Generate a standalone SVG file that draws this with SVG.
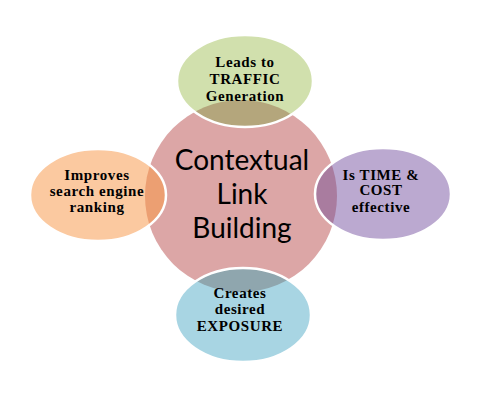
<svg xmlns="http://www.w3.org/2000/svg" width="500" height="400" viewBox="0 0 500 400">
<defs>
<style>
.sat{font-family:"Liberation Serif",serif;font-weight:bold;font-size:15px;letter-spacing:0.6px;text-anchor:middle;fill:#000}
.ctr{font-family:Lato,"Open Sans",sans-serif;font-size:28px;text-anchor:middle;fill:#000}
.edge{fill:none;stroke:#fff;stroke-width:2.5}
</style>
<clipPath id="cc"><circle cx="241" cy="196" r="96"/></clipPath>
</defs>
<rect width="500" height="400" fill="#fff"/>
<g id="center">
<circle cx="241" cy="196" r="96" fill="#dca6a6"/>
</g>
<g id="top">
<ellipse cx="245" cy="81" rx="68" ry="46" fill="#d1e0ad"/>
<ellipse cx="245" cy="81" rx="68" ry="46" fill="#b4a67c" clip-path="url(#cc)"/>
<ellipse class="edge" cx="245" cy="81" rx="68" ry="46"/>
<text class="sat" x="245" y="67">Leads to</text>
<text class="sat" x="245" y="84">TRAFFIC</text>
<text class="sat" x="245" y="101">Generation</text>
</g>
<g id="left">
<ellipse cx="98" cy="195" rx="68" ry="46" fill="#fbc9a0"/>
<ellipse cx="98" cy="195" rx="68" ry="46" fill="#ec9f72" clip-path="url(#cc)"/>
<ellipse class="edge" cx="98" cy="195" rx="68" ry="46"/>
<text class="sat" x="97" y="180">Improves</text>
<text class="sat" x="97" y="196">search engine</text>
<text class="sat" x="97" y="212">ranking</text>
</g>
<g id="right">
<ellipse cx="383" cy="194" rx="68" ry="46" fill="#bba9d0"/>
<ellipse cx="383" cy="194" rx="68" ry="46" fill="#a97c9f" clip-path="url(#cc)"/>
<ellipse class="edge" cx="383" cy="194" rx="68" ry="46"/>
<text class="sat" x="381" y="180">Is TIME &amp;</text>
<text class="sat" x="381" y="195">COST</text>
<text class="sat" x="381" y="212">effective</text>
</g>
<g id="bottom">
<ellipse cx="243" cy="315" rx="68" ry="47" fill="#a8d5e3"/>
<ellipse cx="243" cy="315" rx="68" ry="47" fill="#8fa6ae" clip-path="url(#cc)"/>
<ellipse class="edge" cx="243" cy="315" rx="68" ry="47"/>
<text class="sat" x="240" y="298">Creates</text>
<text class="sat" x="240" y="314">desired</text>
<text class="sat" x="240" y="331">EXPOSURE</text>
</g>
<g id="center-label">
<text class="ctr" x="242" y="170">Contextual</text>
<text class="ctr" x="242" y="204">Link</text>
<text class="ctr" x="242" y="238">Building</text>
</g>
<g id="connectors"/>
</svg>
